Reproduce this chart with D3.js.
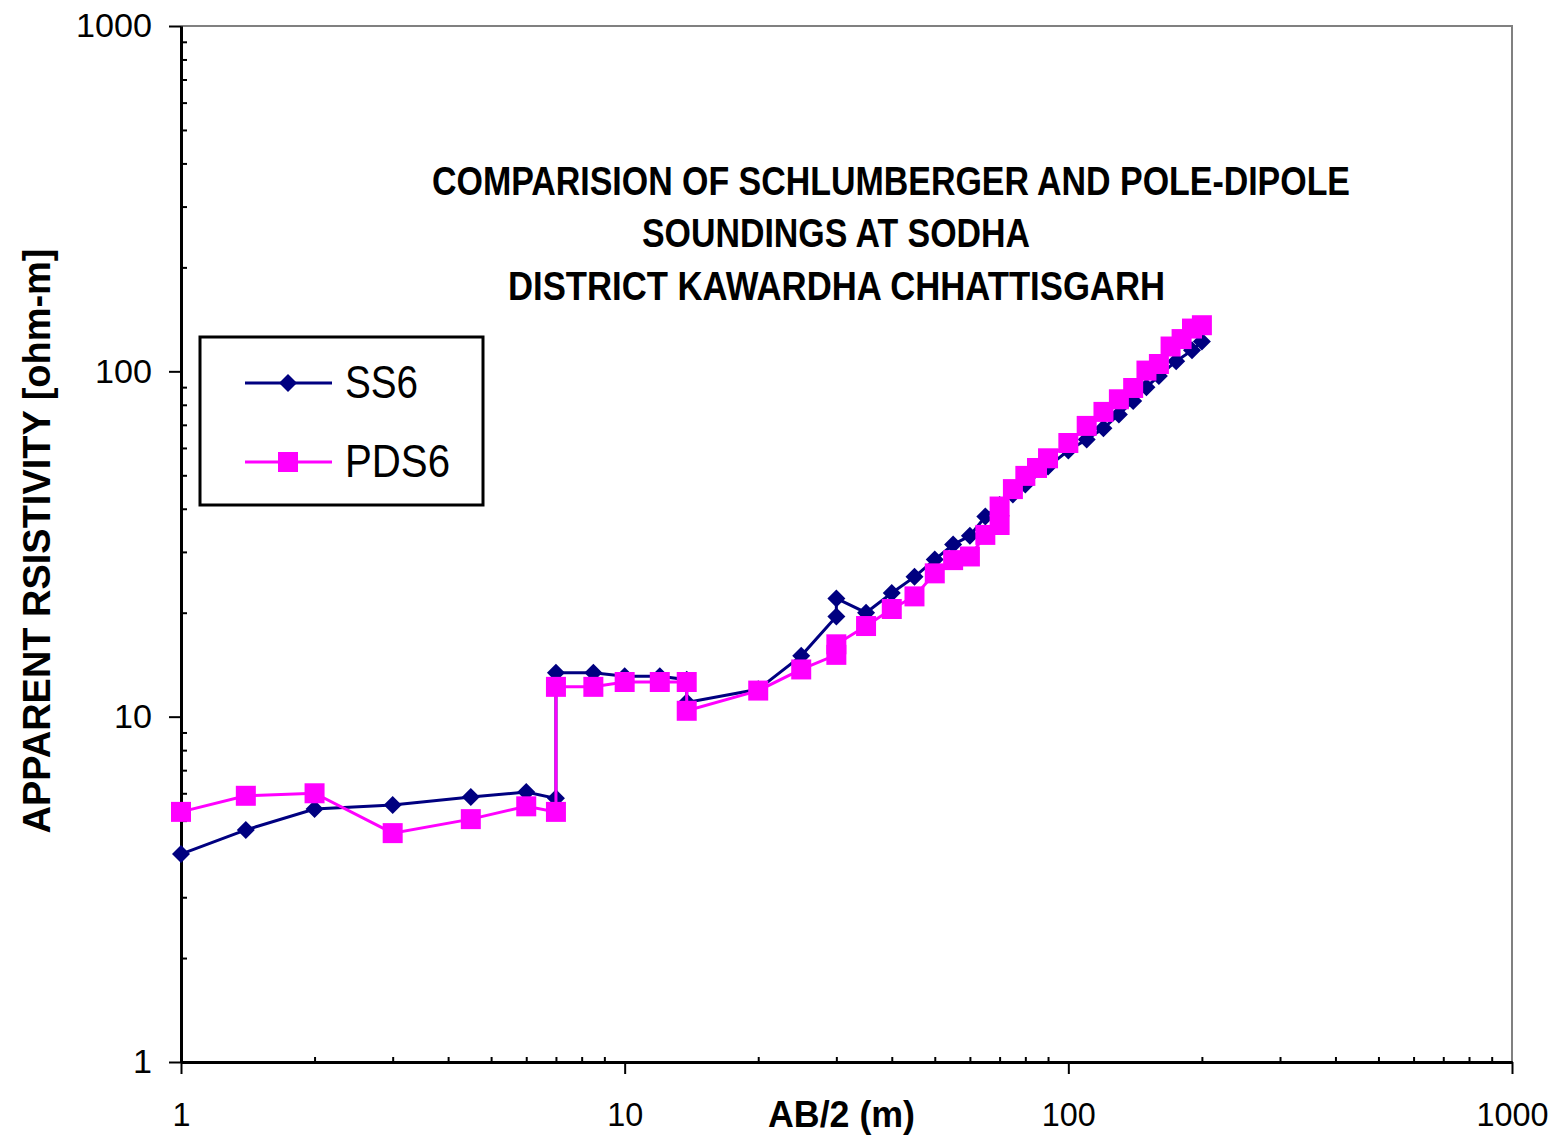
<!DOCTYPE html>
<html>
<head>
<meta charset="utf-8">
<script src="https://d3js.org/d3.v7.min.js"></script>
<style>
  body { margin: 0; background: #fff; }
  text { font-family: "Liberation Sans", Arial, sans-serif; }
</style>
</head>
<body>
<div id="chart"></div>
<script>
// AB/2 (m) vs apparent resistivity (ohm-m)
var ss6X = [1, 1.4, 2, 3, 4.5, 6, 7, 7, 8.5, 10, 12, 13.8, 13.8, 20, 25, 30, 30, 35, 40, 45, 50, 55, 60, 65, 70, 75, 80, 90, 100, 110, 120, 130, 140, 150, 160, 175, 190, 200];
var ss6Y = [4.0, 4.7, 5.4, 5.55, 5.85, 6.05, 5.8, 13.4, 13.4, 13.1, 13.1, 12.8, 11.0, 12.0, 15.0, 19.5, 22.0, 20.0, 22.8, 25.4, 28.5, 31.5, 33.4, 38, 41, 44, 47, 53, 59, 63.5, 68.4, 75, 82, 90, 97, 107, 115, 122];

var pds6X = [1, 1.4, 2, 3, 4.5, 6, 7, 7, 8.5, 10, 12, 13.8, 13.8, 20, 25, 30, 30, 35, 40, 45, 50, 55, 60, 65, 70, 70, 75, 80, 85, 90, 100, 110, 120, 130, 140, 150, 160, 170, 180, 190, 200];
var pds6Y = [5.3, 5.9, 6.0, 4.6, 5.05, 5.5, 5.3, 12.2, 12.2, 12.6, 12.6, 12.6, 10.4, 11.9, 13.7, 15.1, 16.2, 18.3, 20.5, 22.3, 26.0, 28.4, 29.1, 33.6, 35.9, 40.6, 45.6, 49.8, 52.5, 56, 62, 69.5, 76.3, 83, 89.5, 100.5, 105, 118, 124, 133, 136];

var majorTicks = [1, 10, 100, 1000];
var titleLines = [
  "COMPARISION OF SCHLUMBERGER AND POLE-DIPOLE",
  "SOUNDINGS AT SODHA",
  "DISTRICT KAWARDHA CHHATTISGARH"
];
var xTitle = "AB/2 (m)";
var yTitle = "APPARENT RSISTIVITY [ohm-m]";
var seriesNames = ["SS6", "PDS6"];

var W = 1563, H = 1139;
var plotL = 181, plotR = 1512, plotT = 26, plotB = 1062;

var svg = d3.select("#chart").append("svg")
    .attr("width", W).attr("height", H);

var x = d3.scaleLog().domain([1, 1000]).range([plotL, plotR]);
var y = d3.scaleLog().domain([1, 1000]).range([plotB, plotT]);

var minorTicks = x.ticks().filter(function(d) { return majorTicks.indexOf(d) < 0; });

// grey frame on top and right
svg.append("path")
    .attr("d", "M" + plotL + "," + plotT + "H" + plotR + "V" + plotB)
    .attr("fill", "none").attr("stroke", "#808080").attr("stroke-width", 2);

function styleAxis(g, size, len) {
  g.selectAll("path").attr("stroke", "#000").attr("stroke-width", 3);
  g.selectAll("line").attr("stroke", "#000").attr("stroke-width", 2);
  g.selectAll("text").attr("fill", "#000").style("font-size", size + "px")
      .attr("textLength", function(d) { return String(d).length * len; })
      .attr("lengthAdjust", "spacingAndGlyphs");
}

// x axis: minor ticks inside, major ticks outside
var gxMinor = svg.append("g").attr("transform", "translate(0," + plotB + ")")
    .call(d3.axisBottom(x).tickValues(minorTicks).tickSize(-5).tickSizeOuter(0).tickFormat(""));
var gx = svg.append("g").attr("transform", "translate(0," + plotB + ")")
    .call(d3.axisBottom(x).tickValues(majorTicks).tickSize(12).tickSizeOuter(0)
      .tickPadding(28).tickFormat(d3.format("d")));
styleAxis(gxMinor, 34, 18);
styleAxis(gx, 34, 18);

// y axis
var gyMinor = svg.append("g").attr("transform", "translate(" + plotL + ",0)")
    .call(d3.axisLeft(y).tickValues(minorTicks).tickSize(-6).tickSizeOuter(0).tickFormat(""));
var gy = svg.append("g").attr("transform", "translate(" + plotL + ",0)")
    .call(d3.axisLeft(y).tickValues(majorTicks).tickSize(12).tickSizeOuter(0)
      .tickPadding(17).tickFormat(d3.format("d")));
styleAxis(gyMinor, 34, 19);
styleAxis(gy, 34, 19);

// axis titles
svg.append("text")
    .attr("x", 768).attr("y", 1127)
    .attr("font-weight", "bold").style("font-size", "36px")
    .attr("textLength", 147).attr("lengthAdjust", "spacingAndGlyphs")
    .text(xTitle);

svg.append("text")
    .attr("transform", "translate(50,541) rotate(-90)")
    .attr("text-anchor", "middle")
    .attr("font-weight", "bold").style("font-size", "38px")
    .attr("textLength", 585).attr("lengthAdjust", "spacingAndGlyphs")
    .text(yTitle);

// chart title
var titlePos = [[432, 195, 918], [642, 247, 388], [508, 300, 657]];
svg.selectAll(".title").data(titleLines).enter().append("text")
    .attr("class", "title")
    .attr("x", function(d, i) { return titlePos[i][0]; })
    .attr("y", function(d, i) { return titlePos[i][1]; })
    .attr("textLength", function(d, i) { return titlePos[i][2]; })
    .attr("lengthAdjust", "spacingAndGlyphs")
    .attr("font-weight", "bold").style("font-size", "40px")
    .text(function(d) { return d; });

function diamond(r) {
  return "M0," + (-r) + "L" + r + ",0L0," + r + "L" + (-r) + ",0Z";
}
function square(r) {
  return "M" + (-r) + "," + (-r) + "H" + r + "V" + r + "H" + (-r) + "Z";
}

var line = d3.line()
    .x(function(d) { return x(d[0]); })
    .y(function(d) { return y(d[1]); });

var ss6 = d3.zip(ss6X, ss6Y);
var pds6 = d3.zip(pds6X, pds6Y);

// SS6 below, PDS6 on top
svg.append("path").datum(ss6).attr("d", line)
    .attr("fill", "none").attr("stroke", "#000080").attr("stroke-width", 3);
svg.selectAll(".ss6").data(ss6).enter().append("path")
    .attr("class", "ss6")
    .attr("transform", function(d) { return "translate(" + x(d[0]) + "," + y(d[1]) + ")"; })
    .attr("d", diamond(9)).attr("fill", "#000080");

svg.append("path").datum(pds6).attr("d", line)
    .attr("fill", "none").attr("stroke", "#FF00FF").attr("stroke-width", 3);
svg.selectAll(".pds6").data(pds6).enter().append("path")
    .attr("class", "pds6")
    .attr("transform", function(d) { return "translate(" + x(d[0]) + "," + y(d[1]) + ")"; })
    .attr("d", square(10)).attr("fill", "#FF00FF");

// legend
var lg = svg.append("g");
lg.append("rect").attr("x", 200).attr("y", 337).attr("width", 283).attr("height", 168)
    .attr("fill", "#fff").attr("stroke", "#000").attr("stroke-width", 3);
var legendRows = [
  {name: seriesNames[0], color: "#000080", shape: diamond(9), y: 383, len: 73},
  {name: seriesNames[1], color: "#FF00FF", shape: square(10), y: 462, len: 105}
];
legendRows.forEach(function(r) {
  lg.append("line").attr("x1", 245).attr("x2", 332).attr("y1", r.y).attr("y2", r.y)
      .attr("stroke", r.color).attr("stroke-width", 3);
  lg.append("path").attr("transform", "translate(288," + r.y + ")")
      .attr("d", r.shape).attr("fill", r.color);
  lg.append("text").attr("x", 345).attr("y", r.y + 15)
      .style("font-size", "46px")
      .attr("textLength", r.len).attr("lengthAdjust", "spacingAndGlyphs")
      .text(r.name);
});
</script>
</body>
</html>
